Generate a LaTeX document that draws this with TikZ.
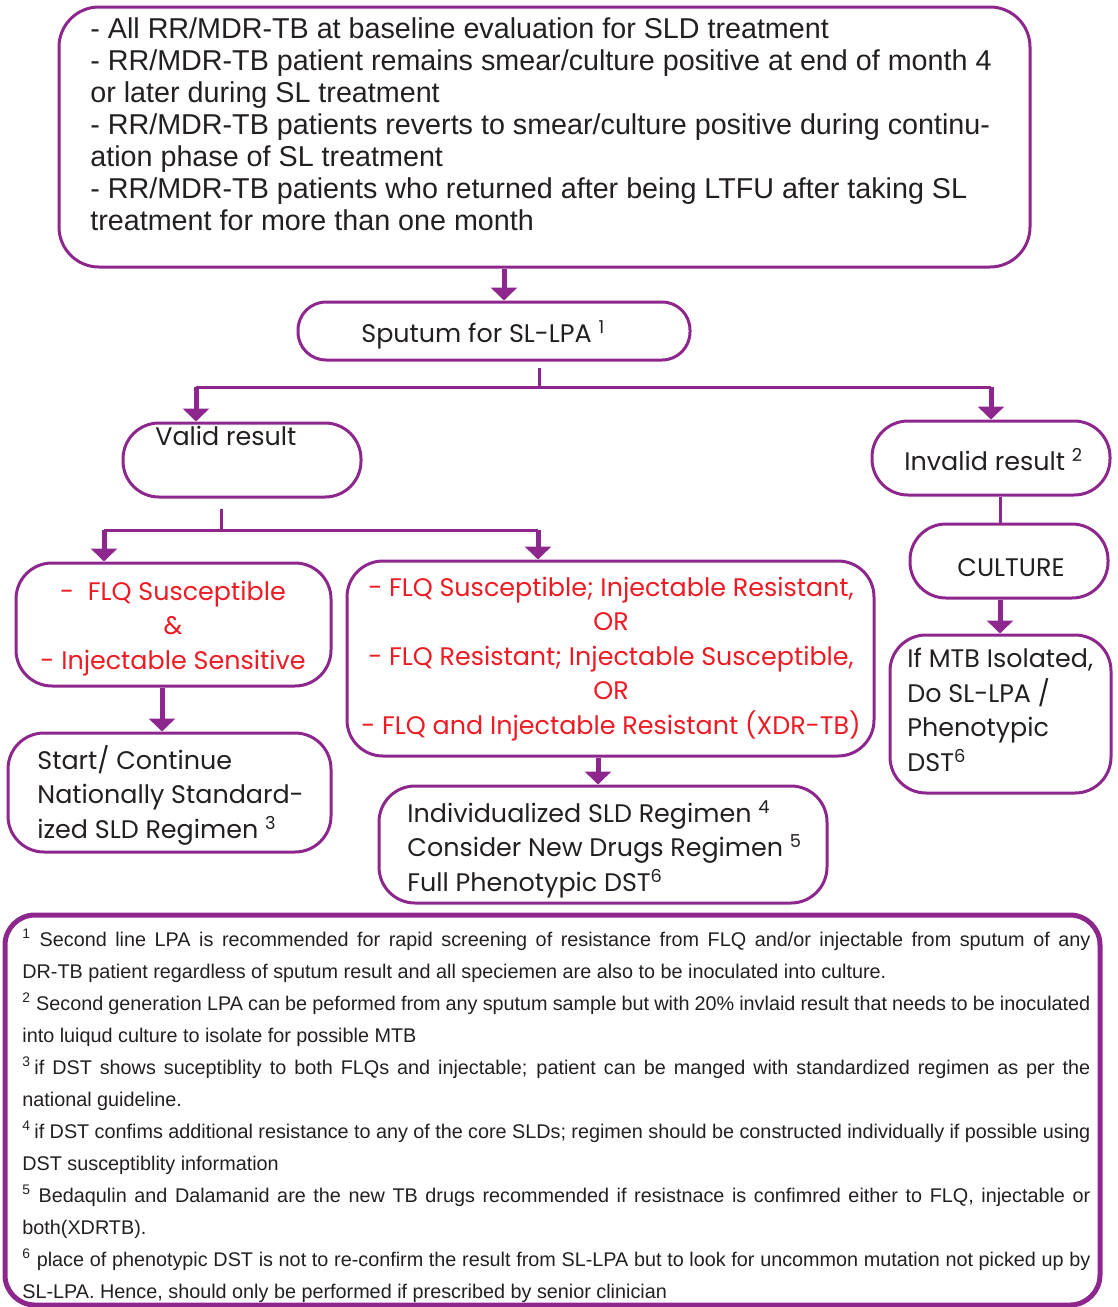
\documentclass[tikz,border=0pt]{standalone}
\usepackage{fontspec}
\setmainfont{Liberation Sans}
\newfontfamily\gothic{Poppins}
\usetikzlibrary{arrows.meta}
\definecolor{plum}{RGB}{142,39,141}
\definecolor{alert}{RGB}{237,28,36}
\definecolor{ink}{RGB}{35,31,32}

\begin{document}
\begin{tikzpicture}[x=0.5pt,y=-0.5pt,
  box/.style={draw=plum, line width=1.5pt, rounded corners=18pt, inner sep=0pt},
  link/.style={draw=plum, line width=1.5pt},
  flow/.style={draw=plum, line width=2.5pt, -{Triangle[width=13pt,length=6.5pt]}},
  gothic/.style={font=\gothic\fontsize{12.7}{17.25}\selectfont, text=ink, inner sep=0pt},
  redlines/.style={gothic, text=alert, align=center, anchor=base},
  blacklines/.style={gothic, align=left, anchor=base west},
  plain/.style={text=ink, inner sep=0pt, align=left, anchor=base west},
]
\useasboundingbox (0,0) rectangle (1118,1307);

% ---- boxes ----
\node[box, minimum width=485.5pt, minimum height=130pt, rounded corners=20pt] (criteria) at (544.5,137) {};
\node[box, minimum width=196pt, minimum height=29pt, rounded corners=14pt] (sputum) at (494,331) {};
\node[box, minimum width=119pt, minimum height=37pt] (valid) at (242,460) {};
\node[box, minimum width=119pt, minimum height=37pt] (invalid) at (991,458) {};
\node[box, minimum width=157.5pt, minimum height=61.5pt] (flqs) at (173.5,624.5) {};
\node[box, minimum width=161.5pt, minimum height=59.5pt] (start) at (169.5,792.5) {};
\node[box, minimum width=263.5pt, minimum height=97.5pt] (resist) at (610.5,658.5) {};
\node[box, minimum width=224pt, minimum height=58.5pt] (indiv) at (603,844.5) {};
\node[box, minimum width=99pt, minimum height=37pt] (culture) at (1009,561) {};
\node[box, minimum width=110.5pt, minimum height=79pt] (mtb) at (1000.5,714) {};
\node[box, line width=2.5pt, rounded corners=15pt, minimum width=547.5pt, minimum height=195pt] (notes) at (552.5,1110) {};

% ---- texts (each placed by the baseline of its last line) ----
\node[plain, font=\fontsize{14.35}{16}\selectfont] (criteriatext) at (90,230) {%
- All RR/MDR-TB at baseline evaluation for SLD treatment\\
- RR/MDR-TB patient remains smear/culture positive at end of month 4\\
or later during SL treatment\\
- RR/MDR-TB patients reverts to smear/culture positive during continu-\\
ation phase of SL treatment\\
- RR/MDR-TB patients who returned after being LTFU after taking SL\\
treatment for more than one month};

\node[blacklines] (sputumtext) at (361,342) {Sputum for SL-LPA \textsuperscript{1}};
\node[blacklines] (validtext) at (155,445) {Valid result};
\node[blacklines] (invalidtext) at (904,470) {Invalid result \textsuperscript{2}};
\node[gothic, anchor=base] (culturetext) at (1011,576) {CULTURE};

\node[redlines] (flqstext) at (173,669) {-\ \ FLQ Susceptible\\ \&\\ - Injectable Sensitive};
\node[blacklines] (starttext) at (37,838) {Start/ Continue\\ Nationally Standard-\\ ized SLD Regimen \textsuperscript{3}};
\node[redlines] (resisttext) at (611,734) {- FLQ Susceptible; Injectable Resistant,\\ OR\\ - FLQ Resistant; Injectable Susceptible,\\ OR\\ - FLQ and Injectable Resistant (XDR-TB)};
\node[blacklines] (indivtext) at (407,891) {Individualized SLD Regimen \textsuperscript{4}\\ Consider New Drugs Regimen \textsuperscript{5}\\ Full Phenotypic DST\textsuperscript{6}};
\node[blacklines] (mtbtext) at (907,771) {If MTB Isolated,\\ Do SL-LPA /\\ Phenotypic\\ DST\textsuperscript{6}};

\node[plain, font=\fontsize{9.9}{16}\selectfont] (notestext) at (22,1298) {%
\makebox[534pt][s]{\textsuperscript{1} Second line LPA is recommended for rapid screening of resistance from FLQ and/or injectable from sputum of any}\\
DR-TB patient regardless of sputum result and all speciemen are also to be inoculated into culture.\\
\makebox[534pt][s]{\textsuperscript{2} Second generation LPA can be peformed from any sputum sample but with 20\% invlaid result that needs to be inoculated}\\
into luiqud culture to isolate for possible MTB\\
\makebox[534pt][s]{\textsuperscript{3}\,if DST shows suceptiblity to both FLQs and injectable; patient can be manged with standardized regimen as per the}\\
national guideline.\\
\makebox[534pt][s]{\textsuperscript{4}\,if DST confims additional resistance to any of the core SLDs; regimen should be constructed individually if possible using}\\
DST susceptiblity information\\
\makebox[534pt][s]{\textsuperscript{5} Bedaqulin and Dalamanid are the new TB drugs recommended if resistnace is confimred either to FLQ, injectable or}\\
both(XDRTB).\\
\makebox[534pt][s]{\textsuperscript{6} place of phenotypic DST is not to re-confirm the result from SL-LPA but to look for uncommon mutation not picked up by}\\
SL-LPA. Hence, should only be performed if prescribed by senior clinician};

% ---- connectors ----
\coordinate (xtop) at (504,0);
\draw[flow] (criteria.south -| xtop) -- (sputum.north -| xtop);

\coordinate (split) at (539,387);
\coordinate (tovalid) at (196,387);
\coordinate (toinvalid) at (991,387);
\draw[link, shorten <=3pt] (sputum.south -| split) -- (split);
\draw[link] (tovalid) -- (toinvalid);
\draw[flow] (tovalid) -- (tovalid |- valid.north);
\draw[flow] (toinvalid) -- (toinvalid |- invalid.north);

\coordinate (split2) at (221,530);
\coordinate (toflqs) at (104,530);
\coordinate (toresist) at (538,530);
\draw[link, shorten <=5pt] (valid.south -| split2) -- (split2);
\draw[link] (toflqs) -- (toresist);
\draw[flow] (toflqs) -- (toflqs |- flqs.north);
\draw[flow] (toresist) -- (toresist |- resist.north);

\coordinate (xleft) at (162,0);
\draw[flow] (flqs.south -| xleft) -- (start.north -| xleft);
\coordinate (xmid) at (598,0);
\draw[flow] (resist.south -| xmid) -- (indiv.north -| xmid);

\coordinate (xright) at (1000,0);
\draw[link] (invalid.south -| xright) -- (culture.north -| xright);
\draw[flow] (culture.south -| xright) -- (mtb.north -| xright);
\end{tikzpicture}
\end{document}
